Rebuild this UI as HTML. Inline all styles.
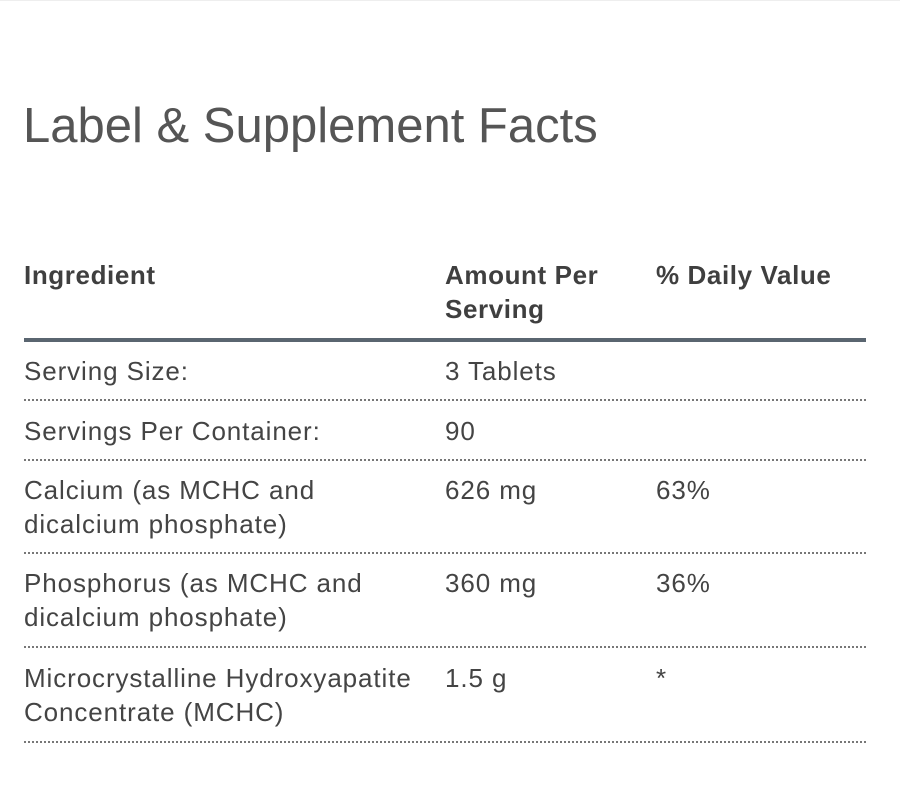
<!DOCTYPE html>
<html><head><style>
body{margin:0;width:900px;height:800px;background:#fff;position:relative;font-family:"Liberation Sans",sans-serif;color:#444;overflow:hidden}
.t{position:absolute;white-space:nowrap;font-size:26px;line-height:34px;letter-spacing:0.9px}
.h{font-weight:bold;color:#3f3f3f;letter-spacing:0.6px}
.d{position:absolute;left:24px;width:842px;border-top:2px dotted #777;height:0}
</style></head><body>
<div style="position:absolute;left:0;top:0;width:900px;height:1px;background:#eee"></div>
<div class="t" style="left:23px;top:96px;font-size:49px;line-height:60px;color:#555;letter-spacing:0">Label &amp; Supplement Facts</div>
<div class="t h" style="left:24px;top:258px">Ingredient</div>
<div class="t h" style="left:445px;top:258px">Amount Per<br>Serving</div>
<div class="t h" style="left:656px;top:258px">% Daily Value</div>
<div style="position:absolute;left:24px;top:338px;width:842px;height:4px;background:#5a6570"></div>
<div class="t" style="left:24px;top:354px">Serving Size:</div>
<div class="t" style="left:445px;top:354px">3 Tablets</div>
<div class="d" style="top:399px"></div>
<div class="t" style="left:24px;top:414px">Servings Per Container:</div>
<div class="t" style="left:445px;top:414px">90</div>
<div class="d" style="top:459px"></div>
<div class="t" style="left:24px;top:473px">Calcium (as MCHC and<br>dicalcium phosphate)</div>
<div class="t" style="left:445px;top:473px">626 mg</div>
<div class="t" style="left:656px;top:473px">63%</div>
<div class="d" style="top:552px"></div>
<div class="t" style="left:24px;top:566px">Phosphorus (as MCHC and<br>dicalcium phosphate)</div>
<div class="t" style="left:445px;top:566px">360 mg</div>
<div class="t" style="left:656px;top:566px">36%</div>
<div class="d" style="top:646px"></div>
<div class="t" style="left:24px;top:661px">Microcrystalline Hydroxyapatite<br>Concentrate (MCHC)</div>
<div class="t" style="left:445px;top:661px">1.5 g</div>
<div class="t" style="left:656px;top:661px">*</div>
<div class="d" style="top:741px"></div>
</body></html>
